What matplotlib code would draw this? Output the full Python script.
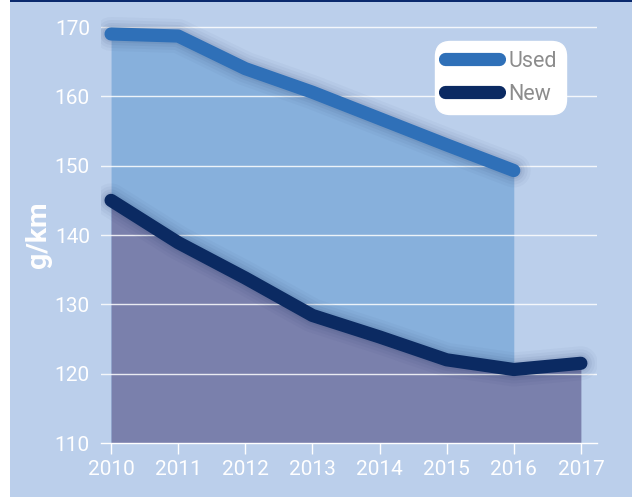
import matplotlib
matplotlib.use("Agg")
import matplotlib.pyplot as plt
from matplotlib.lines import Line2D
from matplotlib.patches import Rectangle
import numpy as np

years = [2010, 2011, 2012, 2013, 2014, 2015, 2016, 2017]
used_years = [2010, 2011, 2012, 2013, 2014, 2015, 2016]
used = [169.0, 168.7, 164.0, 160.6, 156.8, 153.0, 149.3]
new = [145.0, 138.9, 133.8, 128.4, 125.3, 122.0, 120.6, 121.5]
yticks = [110, 120, 130, 140, 150, 160, 170]

BG = "#bbcfeb"
USED_FILL = "#87b0dc"
NEW_FILL = "#7a80ac"
USED_LINE = "#2f70b8"
NEW_LINE = "#0b2a62"
FONT = ["Roboto", "DejaVu Sans"]

plt.rcParams["font.family"] = FONT

fig = plt.figure(figsize=(6.32, 4.97), dpi=100)
fig.patch.set_facecolor("white")
fig.add_artist(Rectangle((10 / 632, 0), 1, 1, transform=fig.transFigure,
                         facecolor=BG, edgecolor="none", zorder=-10))
fig.add_artist(Rectangle((10 / 632, 1 - 2 / 497), 1, 2 / 497, transform=fig.transFigure,
                         facecolor="#0a2a6e", edgecolor="none", zorder=-9))

ax = fig.add_axes([101 / 632, 54 / 497, 496 / 632, 443 / 497])
ax.set_facecolor("none")
ax.set_xlim(2009.85, 2017.24)
ax.set_ylim(110, 173.9)

# fills
ax.fill_between(used_years, 110, used, color=USED_FILL, lw=0, zorder=1)
ax.fill_between(years, 110, new, color=NEW_FILL, lw=0, zorder=2)

# grid
for v in yticks[1:]:
    ax.axhline(v, color="white", lw=1.0, alpha=0.85, zorder=1.5 if v > 140 else 3)

# glow/shadow
for w, a in [(34, 0.03), (28, 0.04), (22, 0.05), (17, 0.06)]:
    ax.plot(used_years, used, color="#0b1f50", lw=w * 0.72, alpha=a,
            solid_capstyle="round", solid_joinstyle="round", zorder=4)
    ax.plot(years, new, color="#0b1f50", lw=w * 0.72, alpha=a,
            solid_capstyle="round", solid_joinstyle="round", zorder=4)

ax.plot(used_years, used, color=USED_LINE, lw=9.5, solid_capstyle="round",
        solid_joinstyle="round", zorder=5)
ax.plot(years, new, color=NEW_LINE, lw=9.5, solid_capstyle="round",
        solid_joinstyle="round", zorder=5)

for s in ["top", "right", "left"]:
    ax.spines[s].set_visible(False)
ax.spines["bottom"].set_color("white")
ax.spines["bottom"].set_linewidth(1.0)
ax.spines["bottom"].set_zorder(6)

ax.set_xticks(years)
ax.set_xticklabels([str(y) for y in years])
ax.set_yticks(yticks)
ax.set_yticklabels([str(v) for v in yticks])
ax.tick_params(axis="x", colors="white", length=8, width=1.0, direction="out",
               labelsize=15, pad=4)
ax.tick_params(axis="y", colors="white", length=0, labelsize=15, pad=8)

ax.set_ylabel("g/km", color="white", fontsize=20.5, fontweight="bold")
ax.yaxis.set_label_coords(-0.099, 0.47)

handles = [Line2D([0], [0], color=USED_LINE, lw=9.5, solid_capstyle="round"),
           Line2D([0], [0], color=NEW_LINE, lw=9.5, solid_capstyle="round")]
leg = ax.legend(handles, ["Used", "New"], loc="upper left",
                bbox_to_anchor=((435 - 101) / 496, 1 - 41 / 443),
                borderaxespad=0, frameon=True, fancybox=True, framealpha=1,
                facecolor="white", edgecolor="white",
                handlelength=2.5, handletextpad=0.45, labelspacing=0.55,
                borderpad=0.45, prop={"size": 15.5})
leg.get_frame().set_boxstyle("round,pad=0,rounding_size=0.7")
for t in leg.get_texts():
    t.set_color("#8c8c8c")
leg.set_zorder(10)

fig.savefig("out.png", dpi=100, facecolor=fig.get_facecolor())
